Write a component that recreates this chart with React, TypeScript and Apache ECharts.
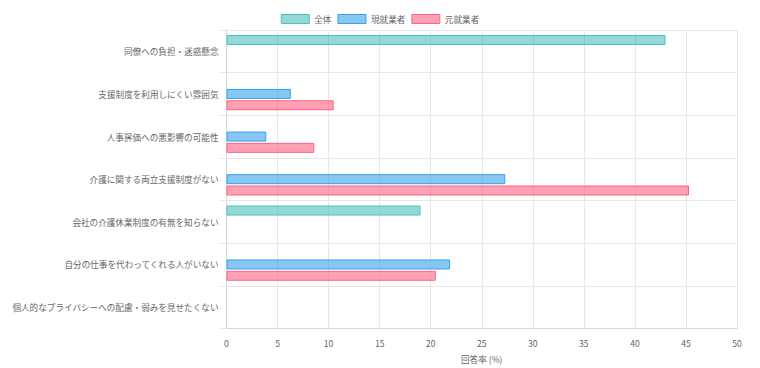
import React, { useEffect, useRef } from "react";
import * as echarts from "echarts";

const categories = [
  "同僚への負担・迷惑懸念",
  "支援制度を利用しにくい雰囲気",
  "人事評価への悪影響の可能性",
  "介護に関する両立支援制度がない",
  "会社の介護休業制度の有無を知らない",
  "自分の仕事を代わってくれる人がいない",
  "個人的なプライバシーへの配慮・弱みを見せたくない",
];
const seriesNames = ["全体", "現就業者", "元就業者"];
const zentai = [43, null, null, null, 19, null, null];
const genShugyo = [null, 6.3, 3.9, 27.3, null, 21.9, null];
const motoShugyo = [null, 10.5, 8.6, 45.3, null, 20.5, null];
const xTicks = { min: 0, max: 50, interval: 5 };

const fills = ["rgba(75,192,192,0.6)", "rgba(54,162,235,0.6)", "rgba(255,99,132,0.6)"];
const borders = ["rgb(75,192,192)", "rgb(54,162,235)", "rgb(255,99,132)"];

export default function App() {
  const ref = useRef<HTMLDivElement>(null);
  useEffect(() => {
    if (!ref.current) return;
    const chart = echarts.init(ref.current, undefined, { renderer: "svg" });
    const font = "'Noto Sans CJK JP', 'Noto Sans', sans-serif";
    const fs = 8.6;
    const data = [zentai, genShugyo, motoShugyo];
    chart.setOption({
      animation: false,
      textStyle: { fontFamily: font },
      legend: {
        top: 14,
        padding: 0,
        left: "center",
        itemWidth: 28,
        itemHeight: 9,
        itemGap: 6,
        icon: "rect",
        itemStyle: { borderWidth: 1 },
        textStyle: { color: "#666", fontSize: fs, fontFamily: font },
        data: seriesNames,
      },
      grid: { left: 226.5, right: 23, top: 30, bottom: 39, containLabel: false },
      xAxis: {
        type: "value",
        min: xTicks.min,
        max: xTicks.max,
        interval: xTicks.interval,
        name: "回答率 (%)",
        nameLocation: "middle",
        nameGap: 26,
        nameTextStyle: { color: "#666", fontSize: fs, fontFamily: font },
        axisLine: { show: true, lineStyle: { color: "#d8d8d8", width: 1 } },
        axisTick: { show: false },
        axisLabel: { color: "#666", fontSize: fs, margin: 10, fontFamily: font },
        splitLine: { show: true, lineStyle: { color: "#e8e8e8", width: 1 } },
      },
      yAxis: {
        type: "category",
        inverse: true,
        data: categories,
        axisLine: { show: true, lineStyle: { color: "#d8d8d8", width: 1 } },
        axisTick: { show: true, length: 7, lineStyle: { color: "#e8e8e8" } },
        axisLabel: { color: "#666", fontSize: fs, margin: 8, fontFamily: font },
        splitLine: { show: true, lineStyle: { color: "#e8e8e8", width: 1 } },
      },
      series: seriesNames.map((name, i) => ({
        name,
        type: "bar",
        data: data[i],
        barWidth: 10,
        barGap: "13%",
        itemStyle: { color: fills[i], borderColor: borders[i], borderWidth: 1 },
      })),
    });
    return () => chart.dispose();
  }, []);
  return <div ref={ref} style={{ width: 760, height: 368, position: "absolute", left: 0, top: 0 }} />;
}
